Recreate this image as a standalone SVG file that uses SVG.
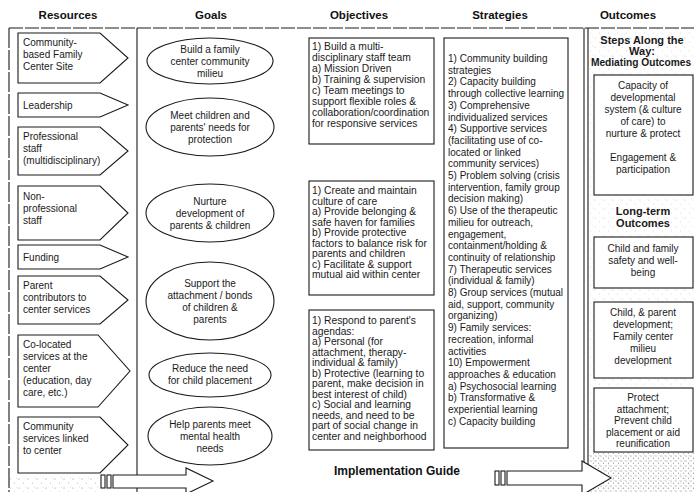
<svg xmlns="http://www.w3.org/2000/svg" width="694" height="492" viewBox="0 0 694 492">
  <defs>
    <pattern id="stipple" width="9" height="9" patternUnits="userSpaceOnUse">
      <circle cx="1" cy="2" r="0.6" fill="#555"/>
      <circle cx="5.5" cy="6" r="0.5" fill="#777"/>
      <circle cx="7.5" cy="1" r="0.4" fill="#888"/>
    </pattern>
    <pattern id="stippleDense" width="5" height="5" patternUnits="userSpaceOnUse">
      <circle cx="1" cy="1" r="0.6" fill="#444"/>
      <circle cx="3.5" cy="3.2" r="0.6" fill="#666"/>
      <circle cx="4.2" cy="0.6" r="0.4" fill="#888"/>
    </pattern>
    <style>
      .hdr { font-family: "Liberation Sans", Arial, sans-serif; font-size: 11.5px; font-weight: bold; fill: #111; text-anchor: middle; }
      .t { font-family: "Liberation Sans", Arial, sans-serif; font-size: 10px; fill: #1a1a1a; }
      .o { font-size: 10.3px; }
      .c { text-anchor: middle; }
      .b { font-weight: bold; font-size: 11px; }
      .box { fill: #fff; stroke: #1a1a1a; stroke-width: 1.1; }
      .ln { fill: none; stroke: #1a1a1a; stroke-width: 1.1; }
      .arrow { fill: #fff; stroke: #1a1a1a; stroke-width: 1.1; stroke-linejoin: miter; }
    </style>
  </defs>

  <rect width="694" height="492" fill="#fff"/>

  <!-- stippled shading -->
  <rect x="589" y="29" width="105" height="463" fill="url(#stipple)" opacity="0.35"/>
  <rect x="589" y="453" width="105" height="39" fill="url(#stippleDense)" opacity="0.7"/>
  <rect x="10" y="476" width="88" height="16" fill="url(#stipple)" opacity="0.7"/>

  <!-- column headings -->
  <g id="headings">
    <text class="hdr" x="68" y="19">Resources</text>
    <text class="hdr" x="211" y="19">Goals</text>
    <text class="hdr" x="359" y="19">Objectives</text>
    <text class="hdr" x="500" y="19">Strategies</text>
    <text class="hdr" x="628" y="19">Outcomes</text>
  </g>

  <!-- frame lines -->
  <g id="frame">
    <line class="ln" x1="9" y1="28" x2="694" y2="28" stroke-dasharray="14 2"/>
    <line class="ln" x1="9" y1="28" x2="9" y2="492" stroke-dasharray="20 2"/>
    <line class="ln" x1="137" y1="28" x2="137" y2="492"/>
    <line class="ln" x1="584" y1="28" x2="584" y2="492"/>
    <line class="ln" x1="588" y1="28" x2="588" y2="492"/>
  </g>

  <!-- Resources -->
  <g id="res-site">
    <polygon class="box" points="18,33 100,33 128,58 100,83 18,83"/>
    <text class="t" x="23" y="46">Community-</text>
    <text class="t" x="23" y="58">based Family</text>
    <text class="t" x="23" y="70">Center Site</text>
  </g>
  <g id="res-leadership">
    <polygon class="box" points="18,93 100,93 128,105 100,117 18,117"/>
    <text class="t" x="23" y="109">Leadership</text>
  </g>
  <g id="res-professional">
    <polygon class="box" points="18,127 100,127 128,151 100,175 18,175"/>
    <text class="t" x="23" y="140">Professional</text>
    <text class="t" x="23" y="152">staff</text>
    <text class="t" x="23" y="164">(multidisciplinary)</text>
  </g>
  <g id="res-nonprofessional">
    <polygon class="box" points="18,186 100,186 128,213 100,240 18,240"/>
    <text class="t" x="23" y="200">Non-</text>
    <text class="t" x="23" y="212">professional</text>
    <text class="t" x="23" y="224">staff</text>
  </g>
  <g id="res-funding">
    <polygon class="box" points="18,245 100,245 128,257 100,269 18,269"/>
    <text class="t" x="23" y="261">Funding</text>
  </g>
  <g id="res-parents">
    <polygon class="box" points="18,276 100,276 128,300 100,324 18,324"/>
    <text class="t" x="23" y="289">Parent</text>
    <text class="t" x="23" y="301">contributors to</text>
    <text class="t" x="23" y="313">center services</text>
  </g>
  <g id="res-colocated">
    <polygon class="box" points="18,335 98,335 130,371 98,407 18,407"/>
    <text class="t" x="23" y="348">Co-located</text>
    <text class="t" x="23" y="360">services at the</text>
    <text class="t" x="23" y="372">center</text>
    <text class="t" x="23" y="384">(education, day</text>
    <text class="t" x="23" y="396">care, etc.)</text>
  </g>
  <g id="res-community">
    <polygon class="box" points="18,417 100,417 128,445 100,473 18,473"/>
    <text class="t" x="23" y="430">Community</text>
    <text class="t" x="23" y="442">services linked</text>
    <text class="t" x="23" y="454">to center</text>
  </g>

  <!-- Goals -->
  <g id="goal-milieu">
    <ellipse class="box" cx="210" cy="61" rx="63" ry="23"/>
    <text class="t c" x="210" y="53">Build a family</text>
    <text class="t c" x="210" y="65">center community</text>
    <text class="t c" x="210" y="77">milieu</text>
  </g>
  <g id="goal-protection">
    <ellipse class="box" cx="210" cy="127" rx="64" ry="29"/>
    <text class="t c" x="210" y="119">Meet children and</text>
    <text class="t c" x="210" y="131">parents' needs for</text>
    <text class="t c" x="210" y="143">protection</text>
  </g>
  <g id="goal-nurture">
    <ellipse class="box" cx="210" cy="213" rx="64" ry="29"/>
    <text class="t c" x="210" y="205">Nurture</text>
    <text class="t c" x="210" y="217">development of</text>
    <text class="t c" x="210" y="229">parents &amp; children</text>
  </g>
  <g id="goal-attachment">
    <ellipse class="box" cx="210" cy="301" rx="64" ry="39"/>
    <text class="t c" x="210" y="287">Support the</text>
    <text class="t c" x="210" y="299">attachment / bonds</text>
    <text class="t c" x="210" y="311">of children &amp;</text>
    <text class="t c" x="210" y="323">parents</text>
  </g>
  <g id="goal-placement">
    <ellipse class="box" cx="210" cy="375" rx="61" ry="22"/>
    <text class="t c" x="210" y="372">Reduce the need</text>
    <text class="t c" x="210" y="384">for child placement</text>
  </g>
  <g id="goal-mentalhealth">
    <ellipse class="box" cx="210" cy="436" rx="62" ry="29"/>
    <text class="t c" x="210" y="428">Help parents meet</text>
    <text class="t c" x="210" y="440">mental health</text>
    <text class="t c" x="210" y="452">needs</text>
  </g>

  <!-- Objectives -->
  <g id="obj-team">
    <rect class="box" x="309" y="38" width="125" height="106"/>
    <text class="t o" x="312" y="50">1) Build a multi-</text>
    <text class="t o" x="312" y="61">disciplinary staff team</text>
    <text class="t o" x="312" y="72">a) Mission Driven</text>
    <text class="t o" x="312" y="83">b) Training &amp; supervision</text>
    <text class="t o" x="312" y="94">c) Team meetings to</text>
    <text class="t o" x="312" y="105">support flexible roles &amp;</text>
    <text class="t o" x="312" y="116">collaboration/coordination</text>
    <text class="t o" x="312" y="127">for responsive services</text>
  </g>
  <g id="obj-culture">
    <rect class="box" x="309" y="181" width="125" height="114"/>
    <text class="t o" x="312" y="194">1) Create and maintain</text>
    <text class="t o" x="312" y="204.5">culture of care</text>
    <text class="t o" x="312" y="215">a) Provide belonging &amp;</text>
    <text class="t o" x="312" y="225.5">safe haven for families</text>
    <text class="t o" x="312" y="236">b) Provide protective</text>
    <text class="t o" x="312" y="246.5">factors to balance risk for</text>
    <text class="t o" x="312" y="257">parents and children</text>
    <text class="t o" x="312" y="267.5">c) Facilitate &amp; support</text>
    <text class="t o" x="312" y="278">mutual aid within center</text>
  </g>
  <g id="obj-agendas">
    <rect class="box" x="309" y="310" width="125" height="140"/>
    <text class="t o" x="312" y="324">1) Respond to parent's</text>
    <text class="t o" x="312" y="334.5">agendas:</text>
    <text class="t o" x="312" y="345">a) Personal (for</text>
    <text class="t o" x="312" y="355.5">attachment, therapy-</text>
    <text class="t o" x="312" y="366">individual &amp; family)</text>
    <text class="t o" x="312" y="376.5">b) Protective (learning to</text>
    <text class="t o" x="312" y="387">parent, make decision in</text>
    <text class="t o" x="312" y="397.5">best interest of child)</text>
    <text class="t o" x="312" y="408">c) Social and learning</text>
    <text class="t o" x="312" y="418.5">needs, and need to be</text>
    <text class="t o" x="312" y="429">part of social change in</text>
    <text class="t o" x="312" y="439.5">center and neighborhood</text>
  </g>

  <!-- Strategies -->
  <g id="strategies">
    <rect class="box" x="444" y="38" width="124" height="410"/>
    <text class="t" x="448" y="62">1) Community building</text>
    <text class="t" x="448" y="73.7">strategies</text>
    <text class="t" x="448" y="85.4">2) Capacity building</text>
    <text class="t" x="448" y="97.1">through collective learning</text>
    <text class="t" x="448" y="108.8">3) Comprehensive</text>
    <text class="t" x="448" y="120.5">individualized services</text>
    <text class="t" x="448" y="132.2">4) Supportive services</text>
    <text class="t" x="448" y="143.9">(facilitating use of co-</text>
    <text class="t" x="448" y="155.6">located or linked</text>
    <text class="t" x="448" y="167.3">community services)</text>
    <text class="t" x="448" y="179">5) Problem solving (crisis</text>
    <text class="t" x="448" y="190.7">intervention, family group</text>
    <text class="t" x="448" y="202.4">decision making)</text>
    <text class="t" x="448" y="214.1">6) Use of the therapeutic</text>
    <text class="t" x="448" y="225.8">milieu for outreach,</text>
    <text class="t" x="448" y="237.5">engagement,</text>
    <text class="t" x="448" y="249.2">containment/holding &amp;</text>
    <text class="t" x="448" y="260.9">continuity of relationship</text>
    <text class="t" x="448" y="272.6">7) Therapeutic services</text>
    <text class="t" x="448" y="284.3">(individual &amp; family)</text>
    <text class="t" x="448" y="296">8) Group services (mutual</text>
    <text class="t" x="448" y="307.7">aid, support, community</text>
    <text class="t" x="448" y="319.4">organizing)</text>
    <text class="t" x="448" y="331.1">9) Family services:</text>
    <text class="t" x="448" y="342.8">recreation, informal</text>
    <text class="t" x="448" y="354.5">activities</text>
    <text class="t" x="448" y="366.2">10) Empowerment</text>
    <text class="t" x="448" y="377.9">approaches &amp; education</text>
    <text class="t" x="448" y="389.6">a) Psychosocial learning</text>
    <text class="t" x="448" y="401.3">b) Transformative &amp;</text>
    <text class="t" x="448" y="413">experiential learning</text>
    <text class="t" x="448" y="424.7">c) Capacity building</text>
  </g>

  <!-- Outcomes -->
  <g id="out-mediating-title">
    <text class="t c b" x="642" y="44">Steps Along the</text>
    <text class="t c b" x="642" y="55">Way:</text>
    <text class="t c b" x="641" y="66" style="font-size:10.2px">Mediating Outcomes</text>
  </g>
  <g id="out-capacity">
    <rect class="box" x="594" y="75" width="99" height="120"/>
    <text class="t c" x="643" y="89">Capacity of</text>
    <text class="t c" x="643" y="101">developmental</text>
    <text class="t c" x="643" y="113">system (&amp; culture</text>
    <text class="t c" x="643" y="125">of care) to</text>
    <text class="t c" x="643" y="137">nurture &amp; protect</text>
    <text class="t c" x="643" y="161">Engagement &amp;</text>
    <text class="t c" x="643" y="173">participation</text>
  </g>
  <g id="out-longterm-title">
    <text class="t c b" x="643" y="215">Long-term</text>
    <text class="t c b" x="643" y="227">Outcomes</text>
  </g>
  <g id="out-safety">
    <rect class="box" x="594" y="237" width="99" height="51"/>
    <text class="t c" x="643" y="252">Child and family</text>
    <text class="t c" x="643" y="264">safety and well-</text>
    <text class="t c" x="643" y="276">being</text>
  </g>
  <g id="out-development">
    <rect class="box" x="594" y="302" width="99" height="76"/>
    <text class="t c" x="643" y="316">Child, &amp; parent</text>
    <text class="t c" x="643" y="328">development;</text>
    <text class="t c" x="643" y="340">Family center</text>
    <text class="t c" x="643" y="352">milieu</text>
    <text class="t c" x="643" y="364">development</text>
  </g>
  <g id="out-attachment">
    <rect class="box" x="594" y="388" width="99" height="64"/>
    <text class="t c" x="643" y="401">Protect</text>
    <text class="t c" x="643" y="412.5">attachment;</text>
    <text class="t c" x="643" y="424">Prevent child</text>
    <text class="t c" x="643" y="435.5">placement or aid</text>
    <text class="t c" x="643" y="447">reunification</text>
  </g>

  <!-- implementation guide arrows -->
  <g id="connectors">
    <rect class="arrow" x="101" y="475" width="4" height="13"/>
    <rect class="arrow" x="107" y="475" width="4" height="13"/>
    <polygon class="arrow" points="113,475 186,475 186,468 213,481 186,494 186,488 113,488"/>
    <rect class="arrow" x="495" y="471" width="4" height="14"/>
    <rect class="arrow" x="501" y="471" width="4" height="14"/>
    <polygon class="arrow" points="507,471 582,471 582,461 611,478 582,495 582,485 507,485"/>
  </g>
  <g id="implementation-guide">
    <text class="hdr" x="397" y="475" style="font-size:12px">Implementation Guide</text>
  </g>
</svg>
